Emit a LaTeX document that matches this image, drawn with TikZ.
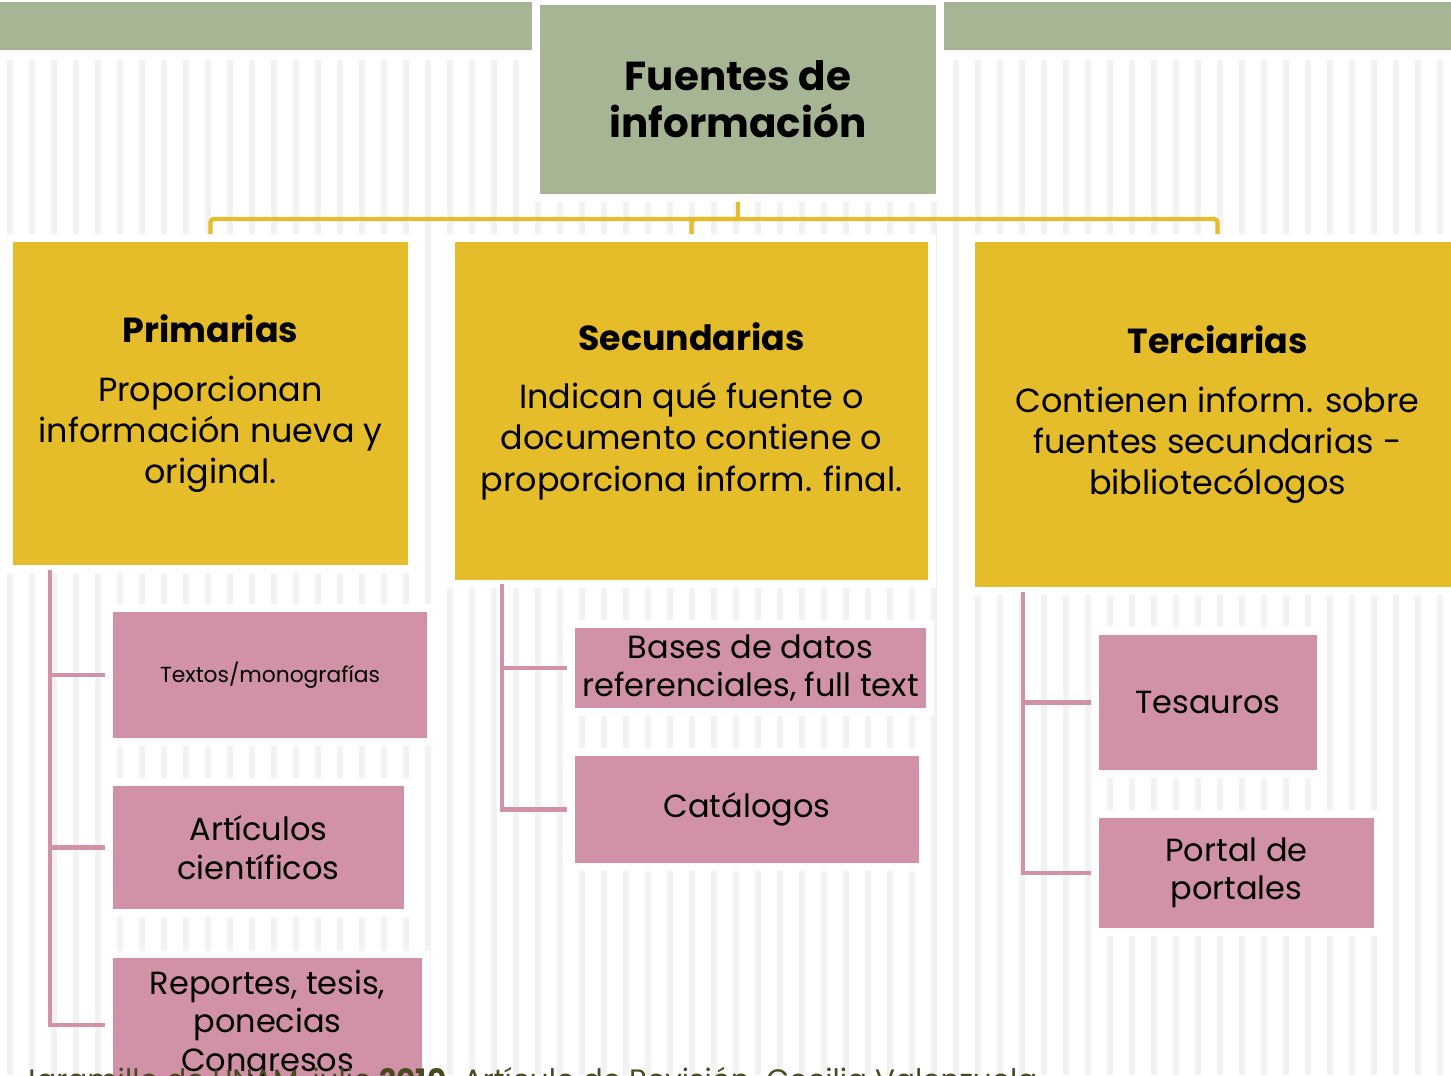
\documentclass[tikz,border=0pt]{standalone}
\usepackage{fontspec}
\setmainfont{Poppins}
\definecolor{sagegreen}{RGB}{166, 181, 148}
\definecolor{mustard}{RGB}{229, 188, 42}
\definecolor{dustypink}{RGB}{209, 145, 166}
\definecolor{stripegray}{RGB}{242, 242, 242}
\definecolor{footolive}{RGB}{74, 74, 32}

\begin{document}
\begin{tikzpicture}[x=0.01cm, y=-0.01cm,
        box/.style={draw=white, line width=2.2pt, inner sep=0pt, align=center, text=black},
        mainbox/.style={box, fill=sagegreen, font=\bfseries\fontsize{11.5}{13.4}\selectfont},
        typebox/.style={box, fill=mustard, font=\fontsize{9.5}{11.7}\selectfont},
        itembox/.style={box, fill=dustypink, font=\fontsize{9.1}{10.9}\selectfont},
        yellowline/.style={draw=mustard, line width=1.2pt, rounded corners=1pt},
        pinkline/.style={draw=dustypink, line width=1.2pt}]

            \useasboundingbox (0, 0) rectangle (1451, 1075);
            \clip (0, 0) rectangle (1451, 1075);
            \fill[white] (0, 0) rectangle (1451, 1075);

            % background stripes and top bars
            \foreach \i in {0, ..., 65}
            \fill[stripegray] ({7 + 22*\i}, 60) rectangle ++(6, 1015);
            \fill[sagegreen] (0, 2) rectangle (537, 50);
            \fill[sagegreen] (939, 2) rectangle (1451, 50);

            % root
            \node[mainbox, minimum width=4.04cm, minimum height=1.97cm] (fuentes) at (738, 99.5) {Fuentes de\\información};

            % three kinds of sources
            \node[typebox, minimum width=4.03cm, minimum height=3.31cm] (prim) at (210.5, 403.5)
                {{\bfseries\fontsize{9.9}{12}\selectfont Primarias}\\[5pt]Proporcionan\\información nueva y\\original.};
            \node[typebox, minimum width=4.81cm, minimum height=3.46cm] (sec) at (691.5, 411)
                {{\bfseries\fontsize{9.9}{12}\selectfont Secundarias}\\[5pt]Indican qué fuente o\\documento contiene o\\proporciona inform. final.};
            \node[typebox, minimum width=4.93cm, minimum height=3.53cm] (ter) at (1217.5, 414.5)
                {{\bfseries\fontsize{9.9}{12}\selectfont Terciarias}\\[5pt]Contienen inform. sobre\\fuentes secundarias -\\bibliotecólogos};

            % connect root to the three kinds
            \draw[yellowline] (fuentes.south) -- ++(0, 17) coordinate (hub);
            \foreach \n in {prim, sec, ter}
            \draw[yellowline] (hub) -| (\n.north);

            % examples under each kind
            \node[itembox, minimum width=3.22cm, minimum height=1.34cm, font=\fontsize{6.2}{8}\selectfont] (textos) at (270, 675) {Textos/monografías};
            \node[itembox, minimum width=2.99cm, minimum height=1.31cm] (articulos) at (258.5, 847.5) {Artículos\\científicos};
            \node[itembox, minimum width=3.17cm, minimum height=1.41cm] (reportes) at (267.5, 1025) {Reportes, tesis,\\ponecias\\Congresos};

            \node[itembox, minimum width=3.59cm, minimum height=0.88cm] (bases) at (750.5, 668) {Bases de datos\\referenciales, full text};
            \node[itembox, minimum width=3.52cm, minimum height=1.15cm] (catalogos) at (747, 809.5) {Catálogos};

            \node[itembox, minimum width=2.26cm, minimum height=1.43cm] (tesauros) at (1208, 702.5) {Tesauros};
            \node[itembox, minimum width=2.83cm, minimum height=1.18cm] (portal) at (1236.5, 873) {Portal de\\portales};

            % pink brackets
            \coordinate (primroot) at (50, 570);
            \coordinate (secroot) at (502, 584);
            \coordinate (terroot) at (1023, 592);
            \foreach \n in {textos, articulos, reportes}
            \draw[pinkline] (primroot) |- (\n.west);
            \foreach \n in {bases, catalogos}
            \draw[pinkline] (secroot) |- (\n.west);
            \foreach \n in {tesauros, portal}
            \draw[pinkline] (terroot) |- (\n.west);

            % footer, cut by the page edge
            \node[anchor=north west, inner sep=0pt, text=footolive, font=\fontsize{8.4}{10}\selectfont] (pie) at (20, 1066)
                {Jaramillo de UNAM, julio \textbf{2010}. Artículo de Revisión. Cecilia Valenzuela};

        \end{tikzpicture}
\end{document}
